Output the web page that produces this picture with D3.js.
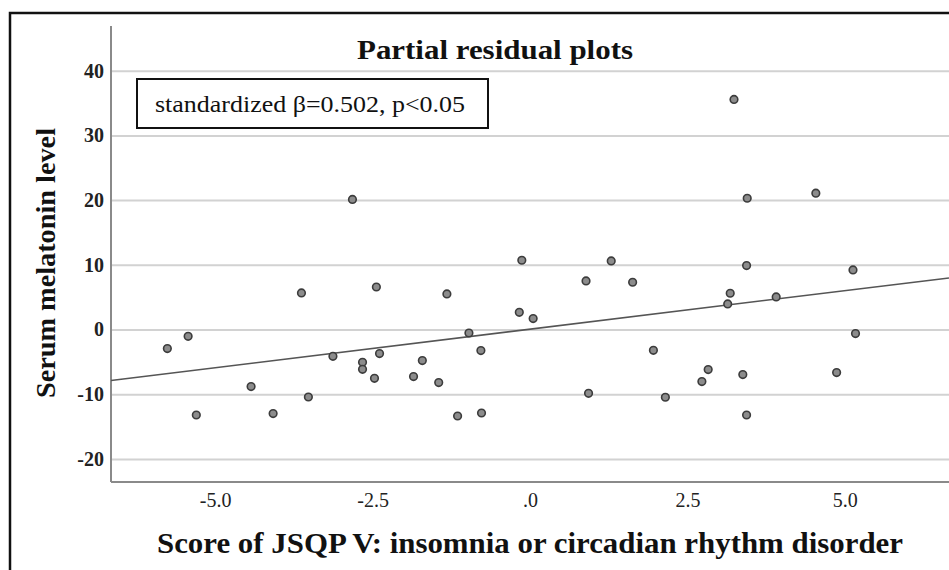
<!DOCTYPE html>
<html><head><meta charset="utf-8">
<script src="https://cdn.jsdelivr.net/npm/d3@7"></script>
<style>body{margin:0;background:#fff}svg{display:block}</style>
</head><body>
<svg id="c" width="949" height="570"></svg>
<script>
// ---- data ----
const scoreX = [-5.76,-5.43,-5.30,-4.43,-4.08,-3.63,-3.52,-3.13,-2.82,-2.66,-2.66,-2.47,-2.44,-2.39,
  -1.85,-1.71,-1.45,-1.32,-1.15,-0.97,-0.78,-0.77,-0.17,-0.13,0.05,0.89,0.93,1.29,1.63,1.96,2.15,
  2.73,2.83,3.14,3.18,3.24,3.38,3.44,3.45,3.44,3.91,4.54,4.87,5.13,5.17];
const melatoninY = [-2.94,-1.04,-13.2,-8.81,-12.98,5.66,-10.42,-4.13,20.1,-5.05,-6.14,-7.53,6.58,-3.71,
  -7.26,-4.79,-8.19,5.5,-13.35,-0.53,-3.25,-12.89,2.67,10.71,1.7,7.51,-9.85,10.6,7.31,-3.2,-10.46,
  -8.04,-6.18,3.96,5.61,35.55,-6.96,9.89,20.29,-13.2,5.04,21.07,-6.65,9.21,-0.62];
const xTicks = [-5, -2.5, 0, 2.5, 5];
const xTickLabels = ["-5.0", "-2.5", ".0", "2.5", "5.0"];
const yTicks = [-20, -10, 0, 10, 20, 30, 40];
const yTickLabels = ["-20", "-10", "0", "10", "20", "30", "40"];
const fitIntercept = 0.06;
const fitSlope = 1.19;
const titleText = "Partial residual plots";
const annotText = "standardized \u03B2=0.502, p<0.05";
const xTitle = "Score of JSQP V: insomnia or circadian rhythm disorder";
const yTitle = "Serum melatonin level";

// ---- drawing ----
const svg = d3.select("#c");
const serif = "Liberation Serif, Times New Roman, serif";
const L = 111, R = 949, T = 26, B = 482;
const x = d3.scaleLinear().domain([-6.655, 6.655]).range([L, R]);
const y = d3.scaleLinear().domain([-23.55, 46.9]).range([B, T]);

// outer frame (only left/top visible)
svg.append("rect").attr("x", 10).attr("y", 13).attr("width", 1200).attr("height", 1200)
  .attr("fill", "#fff").attr("stroke", "#111").attr("stroke-width", 2.5);

// gridlines + y tick labels
const yAxis = d3.axisLeft(y).tickValues(yTicks).tickSize(-(R - L)).tickPadding(7)
  .tickFormat((d, i) => yTickLabels[i]);
const gy = svg.append("g").attr("transform", `translate(${L},0)`).call(yAxis)
  .attr("font-family", serif);
gy.select(".domain").remove();
gy.selectAll(".tick line").attr("stroke", "#d2d2d2").attr("stroke-width", 2);
gy.selectAll(".tick text").style("font-family", serif).attr("font-size", 20)
  .attr("font-weight", "bold").attr("fill", "#222");

// x axis labels
const xAxis = d3.axisBottom(x).tickValues(xTicks).tickSize(0).tickPadding(11)
  .tickFormat((d, i) => xTickLabels[i]);
const gx = svg.append("g").attr("transform", `translate(0,${B})`).call(xAxis)
  .attr("font-family", serif);
gx.select(".domain").remove();
gx.selectAll(".tick text").style("font-family", serif).attr("font-size", 20).attr("fill", "#222");

// axis lines
svg.append("line").attr("x1", L).attr("x2", L).attr("y1", T).attr("y2", B)
  .attr("stroke", "#8a8a8a").attr("stroke-width", 2);
svg.append("line").attr("x1", L).attr("x2", R).attr("y1", B).attr("y2", B)
  .attr("stroke", "#8a8a8a").attr("stroke-width", 2);

// fit line
const xd = x.domain();
svg.append("line")
  .attr("x1", x(xd[0])).attr("y1", y(fitIntercept + fitSlope * xd[0]))
  .attr("x2", x(xd[1])).attr("y2", y(fitIntercept + fitSlope * xd[1]))
  .attr("stroke", "#555").attr("stroke-width", 1.6);

// points
svg.append("g").selectAll("circle").data(scoreX.map((v, i) => [v, melatoninY[i]]))
  .join("circle").attr("cx", d => x(d[0])).attr("cy", d => y(d[1])).attr("r", 3.8)
  .attr("fill", "#8c8c8c").attr("stroke", "#3c3c3c").attr("stroke-width", 1.6);

// title
svg.append("text").attr("x", 495).attr("y", 59).attr("text-anchor", "middle")
  .style("font-family", serif).attr("font-size", 27).attr("font-weight", "bold")
  .attr("textLength", 276).attr("lengthAdjust", "spacingAndGlyphs")
  .attr("fill", "#111").text(titleText);

// annotation box
svg.append("rect").attr("x", 137).attr("y", 79).attr("width", 351).attr("height", 49)
  .attr("fill", "#fff").attr("stroke", "#111").attr("stroke-width", 2);
svg.append("text").attr("x", 155).attr("y", 112).style("font-family", serif)
  .attr("font-size", 23).attr("textLength", 310).attr("lengthAdjust", "spacingAndGlyphs")
  .attr("fill", "#111").text(annotText);

// axis titles
svg.append("text").attr("x", 530).attr("y", 553).attr("text-anchor", "middle")
  .style("font-family", serif).attr("font-size", 29).attr("font-weight", "bold")
  .attr("textLength", 746).attr("lengthAdjust", "spacingAndGlyphs")
  .attr("fill", "#111").text(xTitle);
svg.append("text").attr("transform", "translate(55,263) rotate(-90)").attr("text-anchor", "middle")
  .style("font-family", serif).attr("font-size", 28).attr("font-weight", "bold")
  .attr("textLength", 270).attr("lengthAdjust", "spacingAndGlyphs")
  .attr("fill", "#111").text(yTitle);
</script>
</body></html>
